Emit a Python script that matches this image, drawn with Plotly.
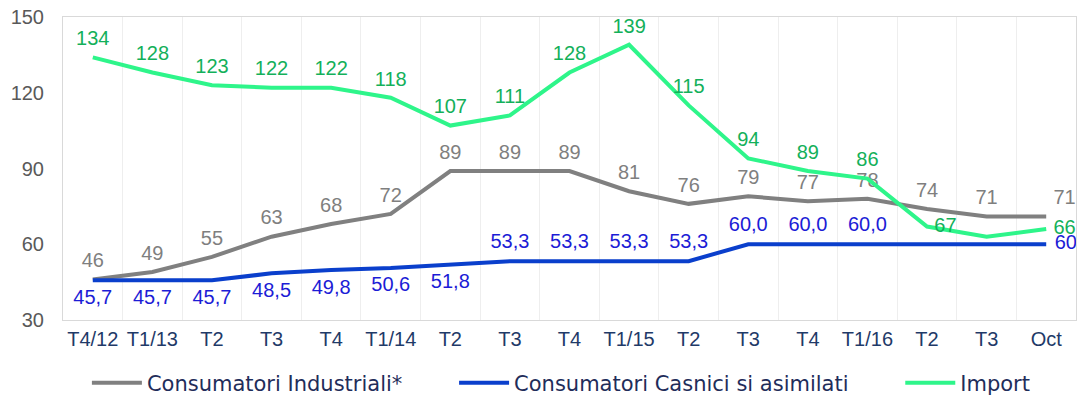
"""Consumatori industriali / casnici / import - evolutie trimestriala"""
import plotly.graph_objects as go

# date
categorii = ["T4/12", "T1/13", "T2", "T3", "T4", "T1/14", "T2", "T3", "T4",
             "T1/15", "T2", "T3", "T4", "T1/16", "T2", "T3", "Oct"]
industriali = [46, 49, 55, 63, 68, 72, 89, 89, 89, 81, 76, 79, 77, 78, 74, 71, 71]
casnici = [45.7, 45.7, 45.7, 48.5, 49.8, 50.6, 51.8, 53.3, 53.3, 53.3, 53.3,
           60.0, 60.0, 60.0, 60.0, 60.0, 60.0]
importuri = [134, 128, 123, 122, 122, 118, 107, 111, 128, 139, 115, 94, 89, 86, 67, 63, 66]

FONT = "Liberation Sans, Arial, sans-serif"
FONT_LEG = "DejaVu Sans, sans-serif"
NBSP = "\u00a0" * 7
x = list(range(len(categorii)))

# etichete
txt_ind = [str(v) for v in industriali]
txt_cas = [f"{v:.1f}".replace(".", ",") for v in casnici]
txt_cas[14] = ""
txt_cas[15] = ""
txt_cas[16] = "60"
txt_imp = [str(v) for v in importuri]
txt_imp[15] = ""

pos_ind = ["top center"] * 16 + ["top right"]
pos_cas = ["bottom center"] * 7 + ["top center"] * 9 + ["middle right"]
pos_imp = ["top center"] * 14 + ["middle right", "top center", "middle right"]

INVIZ = "rgba(0,0,0,0)"

fig = go.Figure()

fig.add_trace(go.Scatter(
    x=x, y=industriali, name="Consumatori Industriali*" + NBSP,
    mode="lines+markers+text", text=txt_ind, textposition=pos_ind,
    line=dict(color="#808080", width=4),
    marker=dict(size=10, color=INVIZ),
    textfont=dict(color="#7f7f7f", size=20, family=FONT),
    cliponaxis=False
))

fig.add_trace(go.Scatter(
    x=x, y=casnici, name="Consumatori Casnici si asimilati" + NBSP,
    mode="lines+markers+text", text=txt_cas, textposition=pos_cas,
    line=dict(color="#0a3fcc", width=4),
    marker=dict(size=12, color=INVIZ),
    textfont=dict(color="#1c1cd6", size=20, family=FONT),
    cliponaxis=False
))

fig.add_trace(go.Scatter(
    x=x, y=importuri, name="Import",
    mode="lines+markers+text", text=txt_imp, textposition=pos_imp,
    line=dict(color="#2ef58a", width=4),
    marker=dict(size=10, color=INVIZ),
    textfont=dict(color="#13b05a", size=20, family=FONT),
    cliponaxis=False
))

fig.update_layout(
    width=1082, height=400,
    margin=dict(l=63, r=6, t=17, b=80, autoexpand=False),
    plot_bgcolor="white", paper_bgcolor="white",
    font=dict(family=FONT, size=18),
    showlegend=True,
    legend=dict(
        orientation="h", x=0.492, xanchor="center", y=-0.208, yanchor="middle",
        font=dict(color="#1f2d5a", size=21, family=FONT_LEG),
        itemwidth=50
    )
)

fig.update_xaxes(
    range=[-0.5, len(categorii) - 0.5],
    tickmode="array", tickvals=x, ticktext=categorii,
    tickfont=dict(color="#1f3a68", size=20, family=FONT),
    ticklabelstandoff=1, automargin=False,
    showgrid=False, zeroline=False,
    showline=True, linecolor="#d9d9d9", linewidth=1, mirror=True,
    ticks="",
    minor=dict(tickmode="array", tickvals=[i + 0.5 for i in x[:-1]],
               showgrid=True, gridcolor="#eeeeee", gridwidth=1)
)

fig.update_yaxes(
    range=[30, 150], tickvals=[30, 60, 90, 120, 150],
    tickfont=dict(color="#595959", size=20, family=FONT),
    ticklabelstandoff=14, automargin=False,
    showgrid=False, zeroline=False,
    showline=True, linecolor="#d9d9d9", linewidth=1, mirror=True,
    ticks=""
)

# fara marginea implicita a paginii
fig.write_html("out.html", config={"displayModeBar": False},
               post_script="document.body.style.margin='0';")
